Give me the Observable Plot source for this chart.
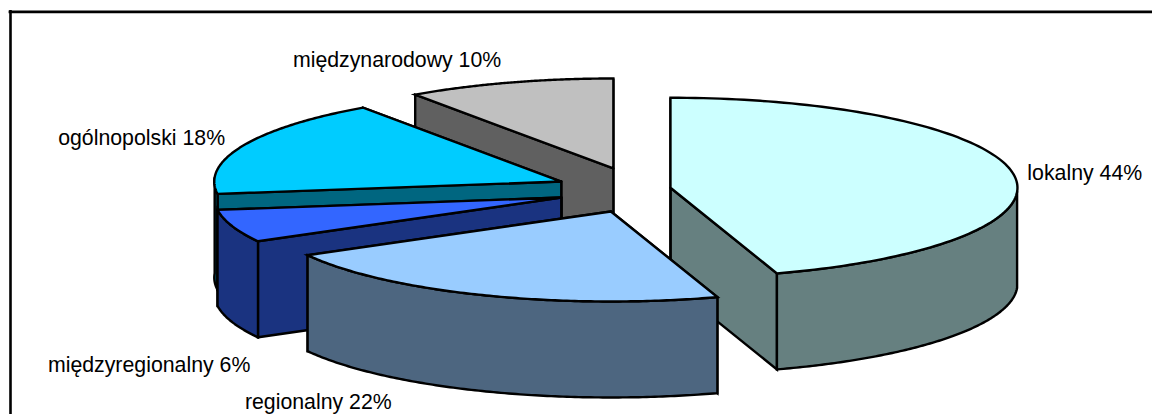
<!DOCTYPE html>
<html>
<head>
<meta charset="utf-8">
<script src="https://cdn.jsdelivr.net/npm/d3@7"></script>
<script src="https://cdn.jsdelivr.net/npm/@observablehq/plot@0.6"></script>
<style>
  html, body { margin: 0; padding: 0; background: #fff; overflow: hidden; }
  svg { display: block; }
</style>
</head>
<body>
<div id="chart"></div>
<script>
// Share of each kind of range, in per cent
const categories = ["lokalny", "regionalny", "międzyregionalny", "ogólnopolski", "międzynarodowy"];
const shares = [44, 22, 6, 18, 10];
const topColors = ["#CCFFFF", "#99CCFF", "#3366FF", "#00CCFF", "#C0C0C0"];
const sideColors = ["#668080", "#4D6680", "#1A3380", "#006680", "#606060"];

// Pie projection: an ellipse with a vertical wall, slices pulled out from a common centre
const width = 1152, height = 414;
const radiusX = 347, radiusY = 90, wallDepth = 96;
const center = [624, 191];
const pullX = [46.8, 44, 68, 68, 36];
const pullY = [20, 21, 16.5, 27, 24.2];
const labelNudge = [[71, -1.5], [-164, 107], [-83, 139], [-102, -7.5], [-112.5, -22]];
const rad = Math.PI / 180;

// Slight foreshortening of the viewing angle
const viewAngle = (deg) => deg + 3.8 * Math.sin(deg * rad / 2);

let running = 0;
const slices = shares.map((share, i) => {
  const start = running * 3.6;
  running += share;
  const end = running * 3.6;
  const mid = (start + end) / 2;
  const origin = [
    center[0] + pullX[i] * Math.sin(mid * rad),
    center[1] - pullY[i] * Math.cos(mid * rad)
  ];
  return {i, start, end, mid, origin};
});

const rimPoint = (s, deg, drop = 0) => {
  const a = viewAngle(deg) * rad;
  return [s.origin[0] + radiusX * Math.sin(a), s.origin[1] - radiusY * Math.cos(a) + drop];
};
const arcPoints = (s, from, to, drop = 0) =>
  d3.range(0, 121).map((k) => rimPoint(s, from + (to - from) * k / 120, drop));
const closed = (pts) => [...pts, pts[0]];

// One closed outline per visible face, back faces first
function faces(s) {
  const out = [];
  const down = (p) => [p[0], p[1] + wallDepth];
  const radialWall = (deg) => {
    const r = rimPoint(s, deg);
    return closed([s.origin, r, down(r), down(s.origin)]);
  };
  out.push({points: radialWall(s.end), fill: sideColors[s.i]});
  out.push({points: radialWall(s.start), fill: sideColors[s.i]});
  const from = Math.max(s.start, 90), to = Math.min(s.end, 270);
  if (from < to) {
    out.push({
      points: closed([...arcPoints(s, from, to), ...arcPoints(s, to, from, wallDepth)]),
      fill: sideColors[s.i]
    });
  }
  out.push({points: closed([s.origin, ...arcPoints(s, s.start, s.end)]), fill: topColors[s.i]});
  return out;
}

// Painting order: rear slice, right slice, then the left ones towards the viewer
const paintOrder = [4, 0, 3, 2, 1];
const faceMarks = paintOrder.flatMap((i) => faces(slices[i])).map((f) =>
  Plot.line(f.points, {
    x: (d) => d[0],
    y: (d) => d[1],
    fill: f.fill,
    stroke: "#000",
    strokeWidth: 2.4,
    strokeLinejoin: "miter",
    strokeMiterlimit: 6
  })
);

const labels = slices.map((s) => {
  const p = rimPoint(s, s.mid);
  return {
    text: `${categories[s.i]} ${shares[s.i]}%`,
    x: p[0] + labelNudge[s.i][0],
    y: p[1] + labelNudge[s.i][1]
  };
});

const chart = Plot.plot({
  width,
  height,
  margin: 0,
  x: {domain: [0, width], range: [0, width], axis: null},
  y: {domain: [0, height], range: [0, height], axis: null},
  marks: [
    Plot.ruleY([11.3], {x1: 8.6, x2: width, stroke: "#000", strokeWidth: 2.8}),
    Plot.ruleX([10], {y1: 10, y2: height, stroke: "#000", strokeWidth: 2.6}),
    ...faceMarks,
    Plot.text(labels, {
      x: "x",
      y: "y",
      text: "text",
      fontFamily: "Liberation Sans, Arial, sans-serif",
      fontSize: 21.3,
      fill: "#000",
      lineAnchor: "middle"
    })
  ]
});
document.getElementById("chart").append(chart);
</script>
</body>
</html>
